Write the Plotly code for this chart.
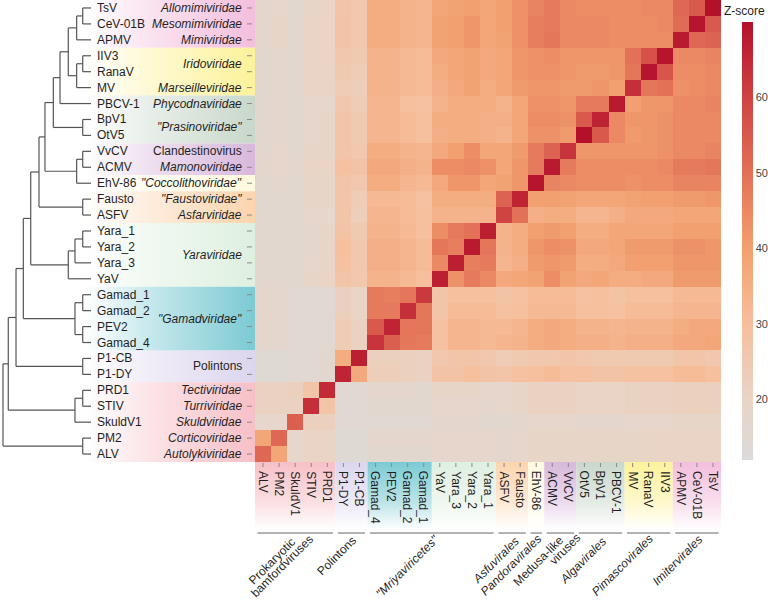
import plotly.graph_objects as go

# ---------------- data ----------------
rows = ["TsV", "CeV-01B", "APMV", "IIV3", "RanaV", "MV", "PBCV-1", "BpV1", "OtV5",
        "VvCV", "ACMV", "EhV-86", "Fausto", "ASFV", "Yara_1", "Yara_2", "Yara_3", "YaV",
        "Gamad_1", "Gamad_2", "PEV2", "Gamad_4", "P1-CB", "P1-DY", "PRD1", "STIV",
        "SkuldV1", "PM2", "ALV"]
columns = rows[::-1]

# Z-scores: rows top->bottom (rows list), columns left->right (columns list)
zscore = [
    [17,18,16,19,20,27,26,36,36,34,33,38,39,40,38, 40,43,46,48,45,44,44,44,44,45,45,52,55,70],
    [17,19,16,20,20,28,26,36,36,34,33,39,40,42,38, 40,43,47,48,45,45,45,44,44,44,45,51,69,55],
    [17,19,16,20,20,28,26,36,36,34,33,39,40,42,38, 39,43,47,49,45,45,45,44,44,44,44,68,52,53],
    [16,17,16,20,20,26,25,34,34,32,31,37,38,39,37, 38,42,43,44,42,42,42,42,50,57,69,45,45,46],
    [16,17,16,20,20,25,24,34,34,32,31,36,38,39,37, 38,42,43,43,42,41,41,42,49,69,56,44,44,45],
    [16,17,16,20,20,24,23,34,34,32,31,35,37,39,36, 38,41,42,42,41,41,42,40,64,49,50,43,44,45],
    [16,17,16,18,18,26,24,33,33,30,29,34,36,36,36, 34,38,43,43,42,48,48,68,40,42,42,45,45,46],
    [16,17,16,18,19,27,25,33,33,31,30,36,36,36,35, 35,38,44,44,43,55,66,45,42,42,43,45,45,45],
    [16,17,16,18,19,27,25,33,33,31,30,35,36,36,35, 34,38,43,43,41,70,55,45,41,42,43,45,45,45],
    [16,18,16,19,19,27,26,36,36,34,33,37,40,44,38, 38,41,48,53,63,42,42,42,42,42,43,45,45,46],
    [17,18,17,20,20,29,28,37,37,35,34,44,44,45,43, 38,42,48,68,48,44,44,44,44,44,45,48,48,49],
    [16,17,16,19,19,27,26,36,36,33,32,37,42,42,38, 39,42,69,46,45,44,44,44,43,44,44,46,46,46],
    [16,16,16,19,19,27,24,32,32,31,29,36,36,36,36, 53,66,40,40,39,38,38,38,39,40,40,41,41,42],
    [16,16,16,18,18,27,23,33,33,31,30,34,34,34,34, 60,50,35,36,36,33,33,35,37,37,37,38,38,38],
    [16,16,16,17,19,28,25,34,34,32,30,44,48,50,67, 34,36,40,41,40,36,36,38,38,38,38,40,40,40],
    [16,16,16,17,19,30,26,35,35,33,31,49,47,68,49, 34,36,42,44,43,37,37,38,41,41,41,43,43,42],
    [16,16,16,18,19,29,26,35,35,33,31,45,67,47,48, 33,35,41,42,41,36,36,37,40,40,40,42,42,42],
    [16,16,16,19,20,27,26,34,34,32,30,67,43,48,45, 37,38,39,44,39,37,38,36,36,37,37,41,41,41],
    [17,17,15,15,15,22,20,48,47,49,62,27,30,30,30, 28,29,31,31,31,29,30,28,30,30,30,32,32,32],
    [17,17,15,15,15,22,20,48,48,64,49,27,31,31,31, 29,30,32,32,32,30,30,29,31,31,31,33,33,33],
    [17,17,15,15,15,24,21,55,66,49,49,29,33,33,32, 32,33,36,37,36,34,34,33,34,34,34,36,37,37],
    [17,17,15,15,15,24,21,63,54,49,48,29,33,33,32, 33,34,36,37,36,35,35,34,35,35,35,37,37,38],
    [14,14,15,15,16,36,67,22,22,22,21,26,27,27,26, 24,25,26,26,27,26,25,25,25,25,25,27,27,26],
    [14,14,15,15,16,66,37,23,23,22,21,28,28,30,28, 27,29,30,31,29,29,28,28,29,29,29,31,31,30],
    [21,21,22,27,65,15,15,17,17,17,16,19,19,19,18, 18,19,21,21,21,20,20,20,21,21,21,22,22,22],
    [21,21,21,64,27,15,15,16,16,16,16,18,18,18,17, 18,19,21,21,21,20,20,20,21,21,21,22,22,22],
    [18,18,54,22,22,15,15,15,15,15,15,17,17,17,16, 16,17,18,18,18,17,17,17,18,18,18,19,19,19],
    [38,52,18,20,20,14,14,17,17,17,17,18,18,18,18, 17,18,19,19,19,19,19,19,19,20,20,20,20,20],
    [52,38,18,20,20,14,14,16,16,16,16,18,18,18,18, 17,18,19,19,19,19,19,19,19,20,20,20,20,20],
]

# dendrogram: [left, right, merge height]
imiter = [["TsV", "CeV-01B", 0.094], "APMV", 0.163]
pimasco = [["IIV3", "RanaV", 0.094], "MV", 0.163]
node1 = [imiter, pimasco, 0.258]
node2 = [node1, "PBCV-1", 0.352]
node3 = [node2, ["BpV1", "OtV5", 0.094], 0.428]
node4 = [node3, [["VvCV", "ACMV", 0.094], "EhV-86", 0.163], 0.523]
node5 = [node4, ["Fausto", "ASFV", 0.094], 0.591]
yara = [[["Yara_1", "Yara_2", 0.094], "Yara_3", 0.182], "YaV", 0.258]
node6 = [node5, yara, 0.685]
gamad = [["Gamad_1", "Gamad_2", 0.094], ["PEV2", "Gamad_4", 0.094], 0.182]
node7 = [node6, gamad, 0.769]
node8 = [node7, ["P1-CB", "P1-DY", 0.094], 0.852]
prok = [["PRD1", "STIV", 0.094], "SkuldV1", 0.182]
node9 = [node8, prok, 0.94]
tree = [node9, ["PM2", "ALV", 0.094], 1.0]

# taxon labels on the right of the tree: (text, first row, last row, italic)
taxa = [
    ("Allomimiviridae", "TsV", "TsV", True),
    ("Mesomimiviridae", "CeV-01B", "CeV-01B", True),
    ("Mimiviridae", "APMV", "APMV", True),
    ("Iridoviridae", "IIV3", "RanaV", True),
    ("Marseilleviridae", "MV", "MV", True),
    ("Phycodnaviridae", "PBCV-1", "PBCV-1", True),
    ("\"Prasinoviridae\"", "BpV1", "OtV5", True),
    ("Clandestinovirus", "VvCV", "VvCV", False),
    ("Mamonoviridae", "ACMV", "ACMV", True),
    ("\"Coccolithoviridae\"", "EhV-86", "EhV-86", True),
    ("\"Faustoviridae\"", "Fausto", "Fausto", True),
    ("Asfarviridae", "ASFV", "ASFV", True),
    ("Yaraviridae", "Yara_1", "YaV", True),
    ("\"Gamadviridae\"", "Gamad_1", "Gamad_4", True),
    ("Polintons", "P1-CB", "P1-DY", False),
    ("Tectiviridae", "PRD1", "PRD1", True),
    ("Turriviridae", "STIV", "STIV", True),
    ("Skuldviridae", "SkuldV1", "SkuldV1", True),
    ("Corticoviridae", "PM2", "PM2", True),
    ("Autolykiviridae", "ALV", "ALV", True),
]

# coloured clade bands: (first row, last row, colour)
bands = [
    ("TsV", "APMV", "#f4bedc"),
    ("IIV3", "MV", "#fdf29a"),
    ("PBCV-1", "OtV5", "#c9d8cb"),
    ("VvCV", "ACMV", "#d8b8dc"),
    ("EhV-86", "EhV-86", "#fffade"),
    ("Fausto", "ASFV", "#fcd4ad"),
    ("Yara_1", "YaV", "#def0df"),
    ("Gamad_1", "Gamad_4", "#7ccad3"),
    ("P1-CB", "P1-DY", "#dcd5ee"),
    ("PRD1", "ALV", "#f7c0c7"),
]

# bottom order groups: (first column, last column)
order_spans = [
    ("ALV", "PRD1"), ("P1-DY", "P1-CB"), ("Gamad_4", "Yara_1"), ("ASFV", "Fausto"),
    ("EhV-86", "EhV-86"), ("ACMV", "VvCV"), ("OtV5", "PBCV-1"), ("MV", "IIV3"), ("APMV", "TsV"),
]
# bottom order labels (one per text line): (text, first col, last col, italic, x shift px, centre y px)
order_labels = [
    ("Prokaryotic", "ALV", "PRD1", False, -23, 561),
    ("bamfordviruses", "ALV", "PRD1", False, -13, 566),
    ("Polintons", "P1-DY", "P1-CB", False, -15, 556),
    ("\"Mriyaviricetes\"", "Gamad_4", "Yara_1", True, -24, 566),
    ("Asfuvirales", "ASFV", "Fausto", True, -16, 560),
    ("Pandoravirales", "EhV-86", "EhV-86", True, -25, 565),
    ("Medusa-like", "ACMV", "VvCV", False, -22, 561),
    ("viruses", "ACMV", "VvCV", False, 5, 549),
    ("Algavirales", "OtV5", "PBCV-1", True, -17, 560),
    ("Pimascovirales", "MV", "IIV3", True, -26, 565),
    ("Imitervirales", "APMV", "TsV", True, -19, 560),
]
col_band_groups = [
    ("ALV", "PRD1", "#f7c0c7"), ("P1-DY", "P1-CB", "#dcd5ee"), ("Gamad_4", "Gamad_1", "#7ccad3"),
    ("YaV", "Yara_1", "#def0df"), ("ASFV", "Fausto", "#fcd4ad"), ("EhV-86", "EhV-86", "#fffade"),
    ("ACMV", "VvCV", "#d8b8dc"), ("OtV5", "PBCV-1", "#c9d8cb"), ("MV", "IIV3", "#fdf29a"),
    ("APMV", "TsV", "#f4bedc"),
]

cb_ticks = [20, 30, 40, 50, 60]
zmin, zmax = 12, 70

# ---------------- geometry / style ----------------
W, H = 768, 600
HM_L, HM_R, HM_T, HM_B = 255, 721, 0, 462
TREE_R = 91
FONT = "Liberation Sans, Arial, sans-serif"
TXT = "#1f1f1f"

def px(x):
    return x / W

def py(y):
    return 1 - y / H

def rgba(hexc, a):
    h = hexc.lstrip('#')
    r, g, b = int(h[0:2], 16), int(h[2:4], 16), int(h[4:6], 16)
    return f"rgba({r},{g},{b},{a})"

ri = {n: i for i, n in enumerate(rows)}
ci = {n: i for i, n in enumerate(columns)}

colorscale = [
    [0.0, "#dcdad8"],
    [0.138, "#e9d4c6"],
    [0.31, "#f6bf9d"],
    [0.483, "#f2a06f"],
    [0.655, "#e27157"],
    [0.828, "#cf4343"],
    [1.0, "#b4102a"],
]

fig = go.Figure()

# bands behind left labels (x2: pixel scale on left, y: rows)
for first, last, col in bands:
    y0, y1 = ri[first] - 0.5, ri[last] + 0.5
    fig.add_trace(go.Scatter(
        x=[85, HM_L, HM_L, 85, 85], y=[y0, y0, y1, y1, y0],
        xaxis="x2", yaxis="y", mode="lines", line=dict(width=0),
        fill="toself", hoverinfo="skip", showlegend=False,
        fillgradient=dict(type="horizontal", start=85, stop=HM_L,
                          colorscale=[[0, rgba(col, 0.0)], [0.4, rgba(col, 0.45)], [1, rgba(col, 1.0)]]),
    ))

# bottom bands (x: columns, y2: pixels below heatmap)
for first, last, col in col_band_groups:
    x0, x1 = ci[first] - 0.5, ci[last] + 0.5
    fig.add_trace(go.Scatter(
        x=[x0, x1, x1, x0, x0], y=[0, 0, 68, 68, 0],
        xaxis="x", yaxis="y2", mode="lines", line=dict(width=0),
        fill="toself", hoverinfo="skip", showlegend=False,
        fillgradient=dict(type="vertical", start=0, stop=68,
                          colorscale=[[0, rgba(col, 1.0)], [0.6, rgba(col, 0.5)], [1, rgba(col, 0.0)]]),
    ))

# heatmap
fig.add_trace(go.Heatmap(
    z=zscore, x=list(range(len(columns))), y=list(range(len(rows))),
    zmin=zmin, zmax=zmax, colorscale=colorscale, xgap=0, ygap=0,
    hoverinfo="skip",
    colorbar=dict(
        x=px(742), xanchor="left", xpad=0, ypad=0,
        y=py(22), yanchor="top", len=(460 - 22) / H, lenmode="fraction",
        thickness=11, outlinewidth=0, ticks="", ticklen=0,
        tickvals=cb_ticks, ticktext=[str(t) for t in cb_ticks],
        tickfont=dict(family=FONT, size=11, color="#444"),
    ),
))

# dendrogram (x3: distance, y: rows)
seg_x, seg_y = [], []
def walk(node):
    if isinstance(node, str):
        return ri[node], 0.0
    a, b, h = node
    ya, ha = walk(a)
    yb, hb = walk(b)
    seg_x.extend([ha, h, None, hb, h, None, h, h, None])
    seg_y.extend([ya, ya, None, yb, yb, None, ya, yb, None])
    return (ya + yb) / 2, h
walk(tree)
fig.add_trace(go.Scatter(x=seg_x, y=seg_y, xaxis="x3", yaxis="y", mode="lines",
                         line=dict(color="#555", width=1.2), hoverinfo="skip", showlegend=False))

shapes = []
ann = []

# left ticks and leaf names
for i, n in enumerate(rows):
    shapes.append(dict(type="line", xref="paper", yref="y", x0=px(247), x1=px(252), y0=i, y1=i,
                       line=dict(color="#8a8a8a", width=1), layer="above"))
    ann.append(dict(xref="paper", yref="y", x=px(95), y=i, text=n, showarrow=False,
                    xanchor="left", yanchor="middle", font=dict(family=FONT, size=12, color=TXT)))

for text, first, last, ital in taxa:
    yc = (ri[first] + ri[last]) / 2
    ann.append(dict(xref="paper", yref="y", x=px(244), y=yc, text=f"<i>{text}</i>" if ital else text,
                    showarrow=False, xanchor="right", yanchor="middle",
                    font=dict(family=FONT, size=12, color=TXT)))

# bottom ticks and column names
for j, n in enumerate(columns):
    shapes.append(dict(type="line", xref="x", yref="paper", x0=j, x1=j, y0=py(463), y1=py(467),
                       line=dict(color="#8a8a8a", width=1), layer="above"))
    ann.append(dict(xref="x", yref="paper", x=j, y=py(469), text=n, showarrow=False, textangle=90,
                    xanchor="center", yanchor="top", font=dict(family=FONT, size=12, color=TXT)))

# order group lines + labels
for first, last in order_spans:
    x0, x1 = ci[first] - 0.5 + 0.15, ci[last] + 0.5 - 0.15
    shapes.append(dict(type="line", xref="x", yref="paper", x0=x0, x1=x1, y0=py(533), y1=py(533),
                       line=dict(color="#9a9a9a", width=1.5), layer="above"))
for text, first, last, ital, xs, yc in order_labels:
    xc = (ci[first] + ci[last]) / 2
    ann.append(dict(xref="x", yref="paper", x=xc, y=py(yc), xshift=xs, text=f"<i>{text}</i>" if ital else text,
                    showarrow=False, textangle=-45, xanchor="center", yanchor="middle", borderpad=0,
                    font=dict(family=FONT, size=12, color=TXT)))

ann.append(dict(xref="paper", yref="paper", x=px(766), y=py(3), text="Z-score", showarrow=False,
                xanchor="right", yanchor="top", borderpad=0, font=dict(family=FONT, size=12, color=TXT)))

fig.update_layout(
    width=W, height=H, margin=dict(l=0, r=0, t=0, b=0),
    paper_bgcolor="white", plot_bgcolor="rgba(0,0,0,0)",
    showlegend=False, shapes=shapes, annotations=ann,
    xaxis=dict(domain=[px(HM_L), px(HM_R)], range=[-0.5, len(columns) - 0.5], anchor="y",
               showticklabels=False, ticks="", showgrid=False, zeroline=False, showline=False),
    yaxis=dict(domain=[py(HM_B), py(HM_T)], range=[len(rows) - 0.5, -0.5], anchor="x",
               showticklabels=False, ticks="", showgrid=False, zeroline=False, showline=False),
    xaxis2=dict(domain=[0, px(HM_L)], range=[0, HM_L], anchor="y", visible=False),
    yaxis2=dict(domain=[0, py(HM_B)], range=[H - HM_B, 0], anchor="x", visible=False),
    xaxis3=dict(domain=[0, px(TREE_R)], range=[1.034, 0], anchor="y", visible=False),
)

fig.write_html("out.html", config={"displayModeBar": False},
               post_script="document.body.style.margin='0px';document.body.style.overflow='hidden';")
